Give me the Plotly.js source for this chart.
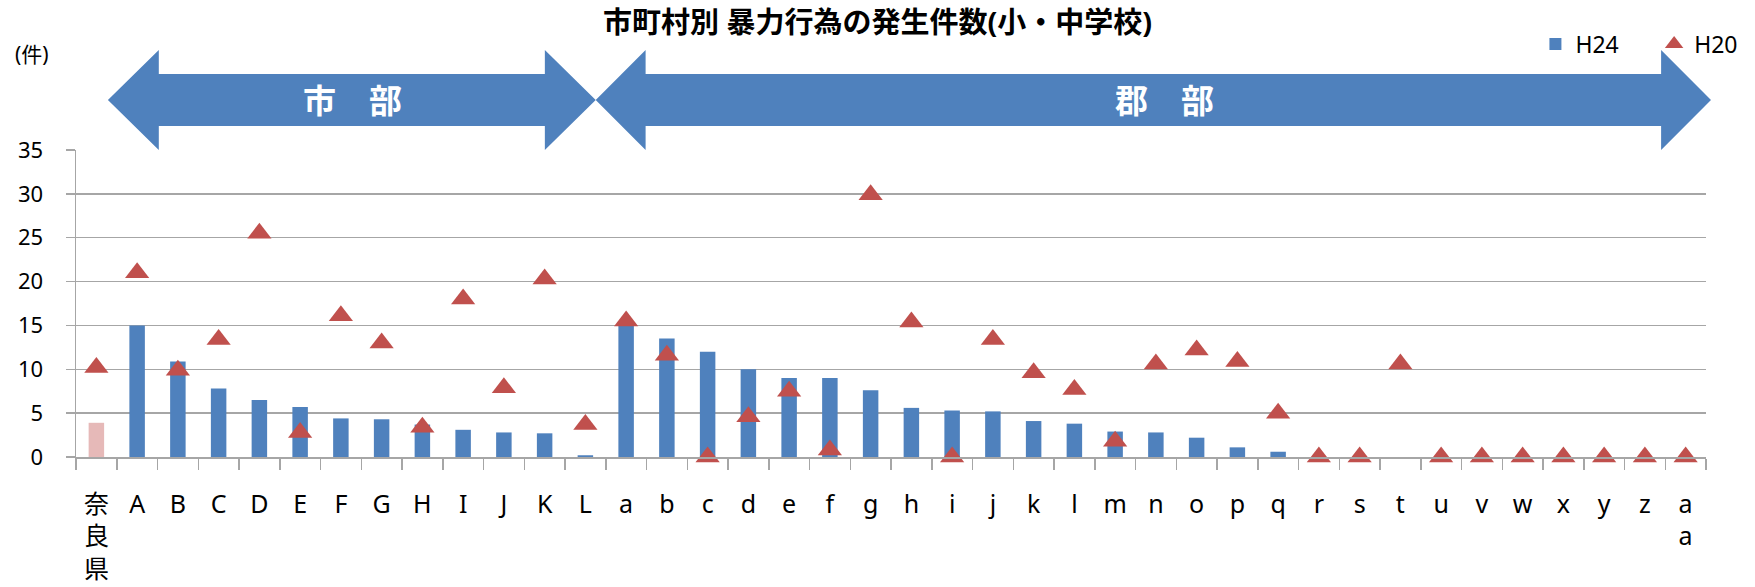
<!DOCTYPE html>
<html>
<head>
<meta charset="utf-8">
<script src="https://cdn.plot.ly/plotly-3.0.1.min.js"></script>
<style>
  html, body { margin: 0; padding: 0; background: #ffffff; }
  #chart { width: 1755px; height: 587px; }
</style>
</head>
<body>
<div id="chart"></div>
<script>
// Municipalities: prefecture total, cities (A–L), towns and villages (a–aa)
const categories = ['奈良県', 'A', 'B', 'C', 'D', 'E', 'F', 'G', 'H', 'I', 'J', 'K', 'L',
  'a', 'b', 'c', 'd', 'e', 'f', 'g', 'h', 'i', 'j', 'k', 'l', 'm', 'n', 'o', 'p', 'q',
  'r', 's', 't', 'u', 'v', 'w', 'x', 'y', 'z', 'aa'];

// Axis labels as drawn (stacked text for the prefecture and for "aa")
const tickLabels = ['奈<br>良<br>県', 'A', 'B', 'C', 'D', 'E', 'F', 'G', 'H', 'I', 'J', 'K', 'L',
  'a', 'b', 'c', 'd', 'e', 'f', 'g', 'h', 'i', 'j', 'k', 'l', 'm', 'n', 'o', 'p', 'q',
  'r', 's', 't', 'u', 'v', 'w', 'x', 'y', 'z', 'a<br>a'];

// H24 counts (bars)
const h24 = [3.9, 15, 10.9, 7.8, 6.5, 5.7, 4.4, 4.3, 3.7, 3.1, 2.8, 2.7, 0.2,
  15, 13.5, 12, 10, 9, 9, 7.6, 5.6, 5.3, 5.2, 4.1, 3.8, 2.9, 2.8, 2.2, 1.1, 0.6,
  0, 0, 0, 0, 0, 0, 0, 0, 0, 0];

// H20 counts (triangles)
const h20 = [10.2, 21, 9.9, 13.4, 25.5, 2.8, 16.1, 13, 3.4, 18, 7.9, 20.3, 3.7,
  15.5, 11.6, 0, 4.6, 7.5, 0.8, 29.9, 15.4, 0, 13.4, 9.6, 7.7, 1.8, 10.6, 12.2, 10.9, 5.0,
  0, 0, 10.6, 0, 0, 0, 0, 0, 0, 0];

const seriesNames = ['H24', 'H20'];
const regionLabels = ['市　部', '郡　部'];
const yTicks = [0, 5, 10, 15, 20, 25, 30, 35];
const titleText = '市町村別 暴力行為の発生件数(小・中学校)';
const unitLabel = '(件)';

// ---- layout helpers (pixel -> paper coordinates) ----
const W = 1755, H = 587;
const M = { l: 76, r: 45, t: 150, b: 130 };
const PW = W - M.l - M.r, PH = H - M.t - M.b;
const px = X => (X - M.l) / PW;
const py = Y => (H - M.b - Y) / PH;

const FONT = 'Noto Sans, Noto Sans CJK JP, sans-serif';
const BLUE = '#4f81bd';
const RED = '#c0504d';
const PINK = '#e6b9b8';
const GRID = '#a6a6a6';

// double-headed block arrow, given in pixels
function blockArrow(x0, x1, cy, head, halfHead, halfShaft) {
  const pts = [
    [x0, cy], [x0 + head, cy - halfHead], [x0 + head, cy - halfShaft],
    [x1 - head, cy - halfShaft], [x1 - head, cy - halfHead], [x1, cy],
    [x1 - head, cy + halfHead], [x1 - head, cy + halfShaft],
    [x0 + head, cy + halfShaft], [x0 + head, cy + halfHead]
  ];
  return 'M' + pts.map(p => px(p[0]).toFixed(5) + ',' + py(p[1]).toFixed(5)).join(' L') + ' Z';
}

const traces = [
  // prefecture total, highlighted in pink
  {
    type: 'bar',
    name: seriesNames[0],
    x: categories.slice(0, 1),
    y: h24.slice(0, 1),
    width: 0.38,
    marker: { color: PINK, line: { width: 0 } },
    showlegend: false,
    hoverinfo: 'skip'
  },
  // municipalities
  {
    type: 'bar',
    name: seriesNames[0],
    x: categories.slice(1),
    y: h24.slice(1),
    width: 0.38,
    marker: { color: BLUE, line: { width: 0 } },
    legend: 'legend',
    hoverinfo: 'skip'
  },
  {
    type: 'scatter',
    mode: 'markers',
    name: seriesNames[1],
    x: categories,
    y: h20,
    cliponaxis: false,
    marker: { symbol: 'triangle-up', size: 21, color: RED, line: { width: 0 } },
    legend: 'legend2',
    hoverinfo: 'skip'
  }
];

const layout = {
  width: W,
  height: H,
  margin: M,
  barmode: 'overlay',
  paper_bgcolor: '#ffffff',
  plot_bgcolor: '#ffffff',
  font: { family: FONT, color: '#000000' },
  title: {
    text: titleText,
    font: { family: FONT, size: 29, weight: 'bold', color: '#000000' },
    xref: 'container', x: 0.5, xanchor: 'center',
    yref: 'container', y: 1 - 23 / H, yanchor: 'middle'
  },
  showlegend: true,
  legend: {
    x: px(1539), xanchor: 'left', y: py(44), yanchor: 'middle',
    orientation: 'h', bgcolor: 'rgba(0,0,0,0)',
    font: { family: FONT, size: 23, color: '#000000' }
  },
  legend2: {
    x: px(1658), xanchor: 'left', y: py(44), yanchor: 'middle',
    orientation: 'h', bgcolor: 'rgba(0,0,0,0)',
    font: { family: FONT, size: 23, color: '#000000' }
  },
  xaxis: {
    type: 'category',
    categoryorder: 'array',
    categoryarray: categories,
    range: [-0.5, categories.length - 0.5],
    tickvals: categories,
    ticktext: tickLabels,
    tickangle: 0,
    tickson: 'boundaries',
    ticks: 'outside',
    ticklen: 11,
    tickwidth: 1.5,
    tickcolor: GRID,
    ticklabelstandoff: 24,
    tickfont: { family: FONT, size: 25, color: '#000000' },
    showgrid: false,
    showline: true,
    linecolor: GRID,
    linewidth: 1.5,
    zeroline: false,
    fixedrange: true
  },
  yaxis: {
    range: [0, 35],
    tickvals: yTicks,
    ticks: 'outside',
    ticklen: 9,
    tickwidth: 1.5,
    tickcolor: GRID,
    ticklabelstandoff: 18,
    tickfont: { family: FONT, size: 22, color: '#000000' },
    showgrid: true,
    gridcolor: GRID,
    gridwidth: 1.5,
    showline: true,
    linecolor: GRID,
    linewidth: 1.5,
    zeroline: false,
    fixedrange: true
  },
  shapes: [
    {
      type: 'path', xref: 'paper', yref: 'paper', layer: 'above',
      path: blockArrow(108, 597, 100, 51, 50, 26),
      fillcolor: BLUE, line: { width: 0 }
    },
    {
      type: 'path', xref: 'paper', yref: 'paper', layer: 'above',
      path: blockArrow(597, 1715, 100, 50, 50, 26),
      fillcolor: BLUE, line: { width: 0 }
    }
  ],
  annotations: [
    {
      text: regionLabels[0], xref: 'paper', yref: 'paper', x: px(353), y: py(101),
      xanchor: 'center', yanchor: 'middle', showarrow: false,
      font: { family: FONT, size: 33, weight: 'bold', color: '#ffffff' }
    },
    {
      text: regionLabels[1], xref: 'paper', yref: 'paper', x: px(1167), y: py(101),
      xanchor: 'center', yanchor: 'middle', showarrow: false,
      font: { family: FONT, size: 33, weight: 'bold', color: '#ffffff' }
    },
    {
      text: unitLabel, xref: 'paper', yref: 'paper', x: px(32), y: py(54),
      xanchor: 'center', yanchor: 'middle', showarrow: false,
      font: { family: FONT, size: 21, color: '#000000' }
    }
  ]
};

Plotly.newPlot('chart', traces, layout, { staticPlot: true, displayModeBar: false });
</script>
</body>
</html>
